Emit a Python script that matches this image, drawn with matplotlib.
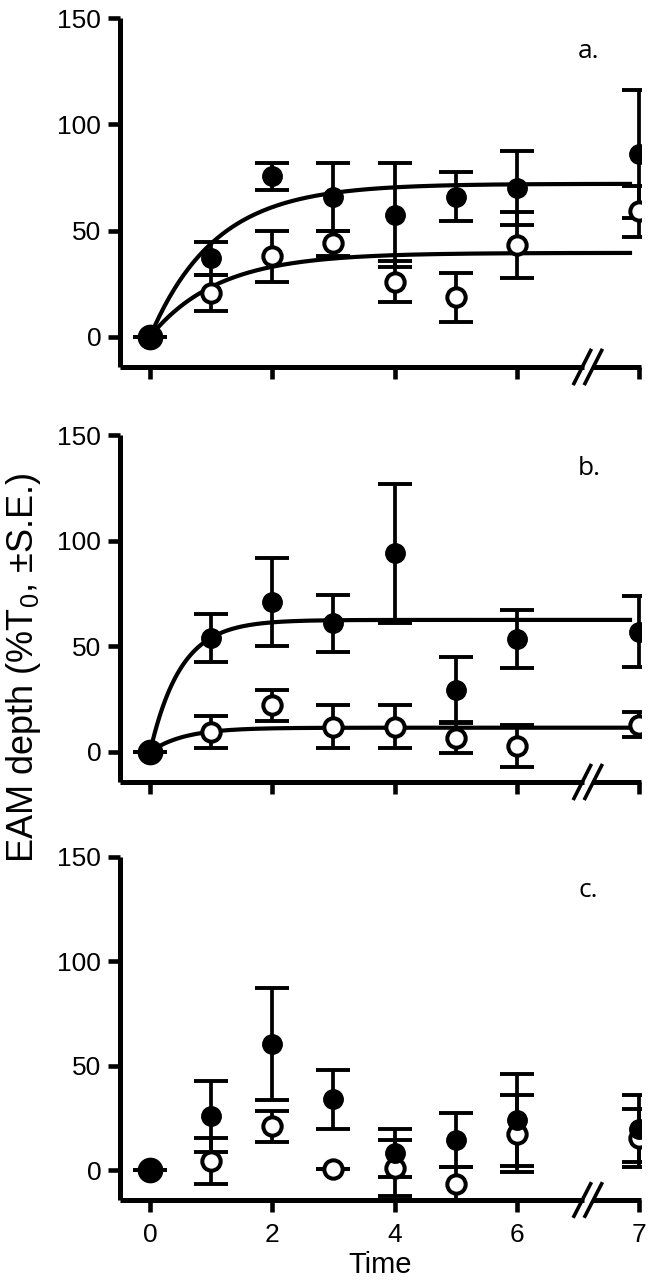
import numpy as np
import matplotlib
matplotlib.use('Agg')
from matplotlib import pyplot as plt

plt.rcParams['font.family'] = ['Liberation Sans', 'DejaVu Sans']
plt.rcParams['mathtext.fontset'] = 'custom'
plt.rcParams['mathtext.rm'] = 'Liberation Sans'
plt.rcParams['mathtext.it'] = 'Liberation Sans:italic'

# x positions (the last point sits after the axis break, labelled "7")
time = [0, 1, 2, 3, 4, 5, 6, 8]
xtick_pos = [0, 2, 4, 6, 8]
xtick_labels = ['0', '2', '4', '6', '7']
yticks = [0, 50, 100, 150]

# panel a
a_filled = [0, 37, 75.5, 66, 57.5, 66, 70, 86]
a_filled_se = [0, 7.7, 6.3, 16, 24.5, 11.5, 17.5, 30]
a_open = [0, 20.5, 38, 44, 26, 18.5, 43, 59]
a_open_se = [0, 8.5, 12, 6, 9.5, 11.3, 15.5, 12]
a_fit_filled = (72, 0.94)   # plateau, rate
a_fit_open = (39.5, 0.9)

# panel b
b_filled = [0, 54, 71, 61, 94, 29.5, 53.5, 57]
b_filled_se = [0, 11.3, 21, 13.5, 33, 15.5, 13.7, 17]
b_open = [0, 9.5, 22, 12, 12, 6.5, 3, 13]
b_open_se = [0, 7.5, 7.5, 10, 10, 7, 10, 6]
b_fit_filled = (62.5, 2.0)
b_fit_open = (11.5, 1.8)

# panel c (no fit)
c_filled = [0, 26, 60.5, 34, 8.5, 14.5, 24, 20]
c_filled_se = [0, 17, 27, 14, 11.5, 13, 22, 16]
c_open = [0, 4.5, 21, 0.5, 1, -6.5, 17.5, 15.5]
c_open_se = [0, 11, 7.5, 0, 13.5, 8, 18.5, 14]

panels = [
    ('a.', a_filled, a_filled_se, a_open, a_open_se, a_fit_filled, a_fit_open),
    ('b.', b_filled, b_filled_se, b_open, b_open_se, b_fit_filled, b_fit_open),
    ('c.', c_filled, c_filled_se, c_open, c_open_se, None, None),
]

W, H = 653, 1283
fig = plt.figure(figsize=(W / 100, H / 100), dpi=100)
# pixel boxes (top, bottom) for the three panels
boxes = [(18, 367), (435, 782), (857, 1200)]
left, right = 120, 641

for (lab, fy, fse, oy, ose, ffit, ofit), (top, bot) in zip(panels, boxes):
    ax = fig.add_axes([left / W, 1 - bot / H, (right - left) / W, (bot - top) / H])
    ax.set_xlim(-0.49, 8.03)
    ax.set_ylim(-14.2, 150)
    for s in ['top', 'right']:
        ax.spines[s].set_visible(False)
    for s in ['left', 'bottom']:
        ax.spines[s].set_linewidth(3.6)
        ax.spines[s].set_capstyle('butt')
    ax.set_yticks(yticks)
    ax.set_xticks(xtick_pos)
    if lab == 'c.':
        ax.set_xticklabels(xtick_labels)
    else:
        ax.set_xticklabels([])
    ax.tick_params(direction='out', length=8.5, width=3.3, labelsize=19)
    ax.tick_params(axis='x', pad=8)
    ax.tick_params(axis='y', pad=5)

    t = np.linspace(0, 7.85, 200)
    for fit in (ffit, ofit):
        if fit is not None:
            ax.plot(t, fit[0] * (1 - np.exp(-fit[1] * t)), color='black', lw=3, zorder=2)

    ekw = dict(fmt='none', ecolor='black', elinewidth=2.7, capsize=12.5, capthick=2.8, zorder=3)
    ax.errorbar(time, fy, yerr=fse, **ekw)
    ax.errorbar(time, oy, yerr=ose, **ekw)
    ax.plot(time, oy, 'o', ms=13.2, mfc='white', mec='black', mew=2.9, ls='none', zorder=4)
    ax.plot(time, fy, 'o', ms=14, color='black', ls='none', zorder=5)
    ax.plot(time[0], fy[0], 'o', ms=17.5, color='black', zorder=6)

    ax.text(7.0, 131, lab, fontsize=19, family=['Open Sans', 'DejaVu Sans'],
            ha='left', va='baseline')

    # axis break "//" on the bottom spine
    tr = ax.get_xaxis_transform()
    ax.plot([7.09, 7.23], [0, 0], color='white', lw=5, transform=tr, clip_on=False,
            zorder=10, solid_capstyle='butt')
    for xc in (7.07, 7.25):
        ax.plot([xc - 0.15, xc + 0.15], [-0.052, 0.052], color='black', lw=2.6,
                transform=tr, clip_on=False, zorder=11, solid_capstyle='butt')

    if lab == 'c.':
        ax.set_xlabel('Time', fontsize=21, labelpad=3)

fig.text(24 / W, 1 - 668 / H, r'EAM depth (%T$_0$, ±S.E.)', rotation=90,
         fontsize=26, ha='center', va='center')

plt.savefig('out.png', dpi=100)
